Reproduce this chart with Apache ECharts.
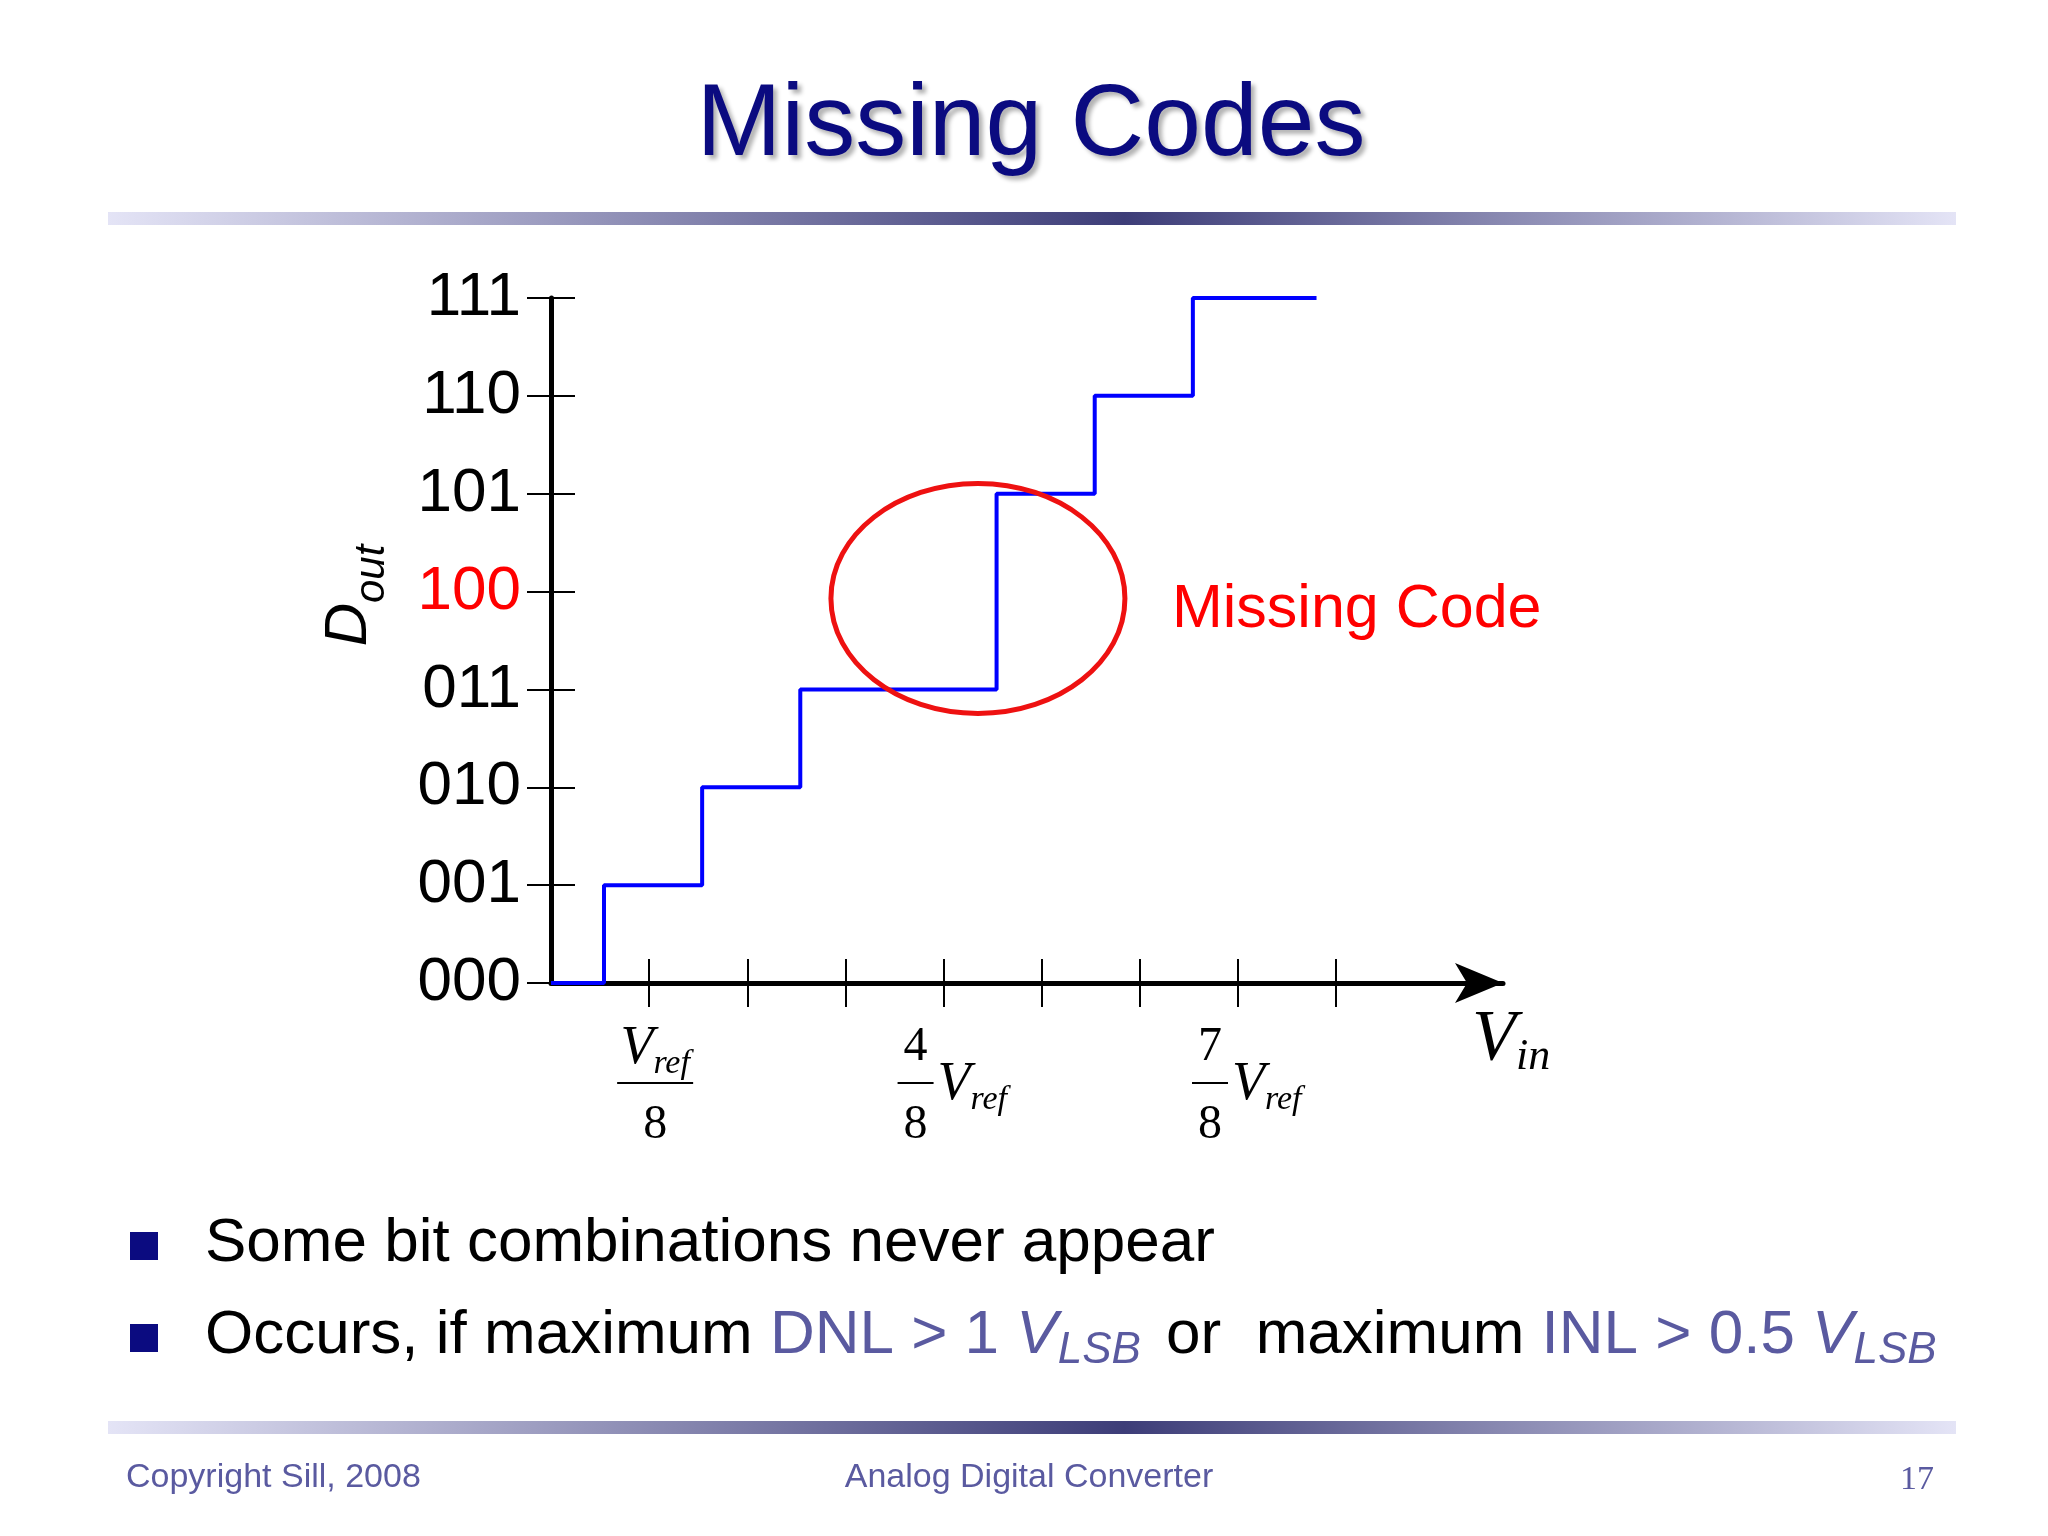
<!DOCTYPE html>
<html>
<head>
<meta charset="UTF-8" />
<title>Missing Codes</title>
<style>
  html, body { margin: 0; padding: 0; background: #fff; }
  #chart { width: 2048px; height: 1536px; }
</style>
</head>
<body>
<div id="chart"></div>
<script src="https://cdn.jsdelivr.net/npm/echarts@6/dist/echarts.min.js"></script>
<script>
// input voltage in units of Vref/8 where the output code changes, and the code reached
const stepX = [0, 0.54, 1.54, 2.54, 4.54, 5.54, 6.54, 7.8];
const stepCode = [0, 1, 2, 3, 5, 6, 7, 7];
const codeLabels = ['000', '001', '010', '011', '100', '101', '110', '111'];
const xTicks = [1, 2, 3, 4, 5, 6, 7, 8];
const missingCode = 4;
const circleCenter = [4.35, 3.93];

const chart = echarts.init(document.getElementById('chart'));
const navy = '#0b0b80';
const purple = '#5a5aa0';

function bar(y) {
  return {
    type: 'rect', shape: { x: 108, y: y, width: 1848, height: 13 }, silent: true,
    style: { fill: new echarts.graphic.LinearGradient(0, 0, 1, 0, [
      { offset: 0, color: '#e4e4f6' }, { offset: 0.55, color: '#3d3d78' }, { offset: 1, color: '#e4e4f6' }
    ]) }
  };
}

const ticks = { show: true, length: 24, lineStyle: { color: '#000', width: 2 } };
const axisBase = { lineStyle: { color: '#000', width: 5 } };

chart.setOption({
  animation: false,
  grid: { left: 551, right: 545, top: 298, bottom: 553 },
  xAxis: [
    { type: 'value', min: 0, max: 9.7, interval: 1, position: 'bottom',
      axisLine: { lineStyle: { color: '#000', width: 5 }, symbol: ['none', 'arrow'], symbolSize: [30, 48] },
      axisTick: Object.assign({ customValues: xTicks }, ticks), axisLabel: { show: false }, splitLine: { show: false } },
    { type: 'value', min: 0, max: 9.7, interval: 1, position: 'bottom', axisLine: { show: false },
      axisTick: Object.assign({ inside: true, customValues: xTicks }, ticks), axisLabel: { show: false }, splitLine: { show: false } }
  ],
  yAxis: [
    { type: 'value', min: 0, max: 7, interval: 1, axisLine: Object.assign({ show: true }, axisBase),
      axisTick: ticks, splitLine: { show: false },
      axisLabel: { fontFamily: 'Liberation Sans', fontSize: 62, margin: 30,
        formatter: v => v === missingCode ? '{r|' + codeLabels[v] + '}' : codeLabels[v],
        color: '#000', rich: { r: { color: '#ff0000', fontSize: 62, fontFamily: 'Liberation Sans' } } },
      name: '{d|D}{s|out}', nameLocation: 'middle', nameGap: 172, nameRotate: 90,
      nameTextStyle: { padding: [0, 0, 0, 90], rich: {
        d: { fontFamily: 'Liberation Sans', fontStyle: 'italic', fontSize: 60, color: '#000' },
        s: { fontFamily: 'Liberation Sans', fontStyle: 'italic', fontSize: 42, color: '#000', verticalAlign: 'bottom', padding: [0, 0, -14, 0] } } } },
    { type: 'value', min: 0, max: 7, interval: 1, position: 'left', axisLine: { show: false },
      axisTick: Object.assign({ inside: true }, ticks), axisLabel: { show: false }, splitLine: { show: false } }
  ],
  series: [{
    type: 'line', step: 'end', symbol: 'none',
    data: stepX.map((x, i) => [x, stepCode[i]]),
    lineStyle: { color: '#0000ff', width: 4 }, z: 3
  }]
});

const px = (x, y) => chart.convertToPixel({ xAxisIndex: 0, yAxisIndex: 0 }, [x, y]);
const c = px(circleCenter[0], circleCenter[1]);
const serif = 'Liberation Serif';

function frac(x, num, withV) {
  const p = px(x, 0);
  const cx = withV ? p[0] - 28 : p[0] + 6;
  const els = [
    { type: 'line', shape: { x1: cx - (withV ? 18 : 38), y1: p[1] + 100, x2: cx + (withV ? 18 : 38), y2: p[1] + 100 }, style: { stroke: '#000', lineWidth: 2 } },
    { type: 'text', x: cx, y: p[1] + 142, style: { text: '8', font: '48px "' + serif + '"', fill: '#000', align: 'center', verticalAlign: 'middle' } }
  ];
  if (withV) {
    els.push({ type: 'text', x: cx, y: p[1] + 64, style: { text: num, font: '48px "' + serif + '"', fill: '#000', align: 'center', verticalAlign: 'middle' } });
    els.push({ type: 'text', x: cx + 22, y: p[1] + 102, style: {
      text: '{v|V}{s|ref}', align: 'left', verticalAlign: 'middle',
      rich: { v: { fontFamily: serif, fontStyle: 'italic', fontSize: 54, fill: '#000' },
              s: { fontFamily: serif, fontStyle: 'italic', fontSize: 34, fill: '#000', padding: [30, 0, 0, 0] } } } });
  } else {
    els.push({ type: 'text', x: cx, y: p[1] + 66, style: {
      text: '{v|V}{s|ref}', align: 'center', verticalAlign: 'middle',
      rich: { v: { fontFamily: serif, fontStyle: 'italic', fontSize: 54, fill: '#000' },
              s: { fontFamily: serif, fontStyle: 'italic', fontSize: 34, fill: '#000', padding: [30, 0, 0, 0] } } } });
  }
  return { type: 'group', children: els };
}

chart.setOption({
  graphic: [
    { type: 'text', x: 1031, y: 127, style: { text: 'Missing Codes', font: '102px "Liberation Sans"', fill: navy,
      align: 'center', verticalAlign: 'middle', textShadowColor: 'rgba(0,0,0,0.3)', textShadowOffsetX: 4, textShadowOffsetY: 4, textShadowBlur: 4 } },
    bar(212),
    bar(1421),
    { type: 'ellipse', shape: { cx: c[0], cy: c[1], rx: 147, ry: 115 }, style: { fill: 'none', stroke: '#ee1111', lineWidth: 5 }, z: 10 },
    { type: 'text', x: 1172, y: 610, style: { text: 'Missing Code', font: '61px "Liberation Sans"', fill: '#ff0000', verticalAlign: 'middle' } },
    { type: 'text', x: 1472, y: 1040, style: { text: '{v|V}{s|in}', verticalAlign: 'middle',
      rich: { v: { fontFamily: serif, fontStyle: 'italic', fontSize: 72, fill: '#000' },
              s: { fontFamily: serif, fontStyle: 'italic', fontSize: 44, fill: '#000', padding: [34, 0, 0, 0] } } } },
    frac(1, '', false),
    frac(4, '4', true),
    frac(7, '7', true),
    { type: 'rect', shape: { x: 130, y: 1232, width: 28, height: 28 }, style: { fill: navy } },
    { type: 'rect', shape: { x: 130, y: 1324, width: 28, height: 28 }, style: { fill: navy } },
    { type: 'text', x: 205, y: 1244, style: { text: 'Some bit combinations never appear', font: '62px "Liberation Sans"', fill: '#000', verticalAlign: 'middle' } },
    { type: 'text', x: 205, y: 1336, style: { verticalAlign: 'middle',
      text: '{k|Occurs, if maximum }{p|DNL > 1 }{pi|V}{ps|LSB}{k| or  maximum }{p|INL > 0.5 }{pi|V}{ps|LSB}',
      rich: {
        k: { fontFamily: 'Liberation Sans', fontSize: 62, fill: '#000' },
        p: { fontFamily: 'Liberation Sans', fontSize: 62, fill: purple },
        pi: { fontFamily: 'Liberation Sans', fontStyle: 'italic', fontSize: 62, fill: purple },
        ps: { fontFamily: 'Liberation Sans', fontStyle: 'italic', fontSize: 44, fill: purple, padding: [30, 8, 0, 0] } } } },
    { type: 'text', x: 126, y: 1478, style: { text: 'Copyright Sill, 2008', font: '34px "Liberation Sans"', fill: purple, verticalAlign: 'middle' } },
    { type: 'text', x: 1029, y: 1478, style: { text: 'Analog Digital Converter', font: '34px "Liberation Sans"', fill: purple, align: 'center', verticalAlign: 'middle' } },
    { type: 'text', x: 1934, y: 1480, style: { text: '17', font: '34px "Liberation Serif"', fill: purple, align: 'right', verticalAlign: 'middle' } }
  ]
});
</script>
</body>
</html>
